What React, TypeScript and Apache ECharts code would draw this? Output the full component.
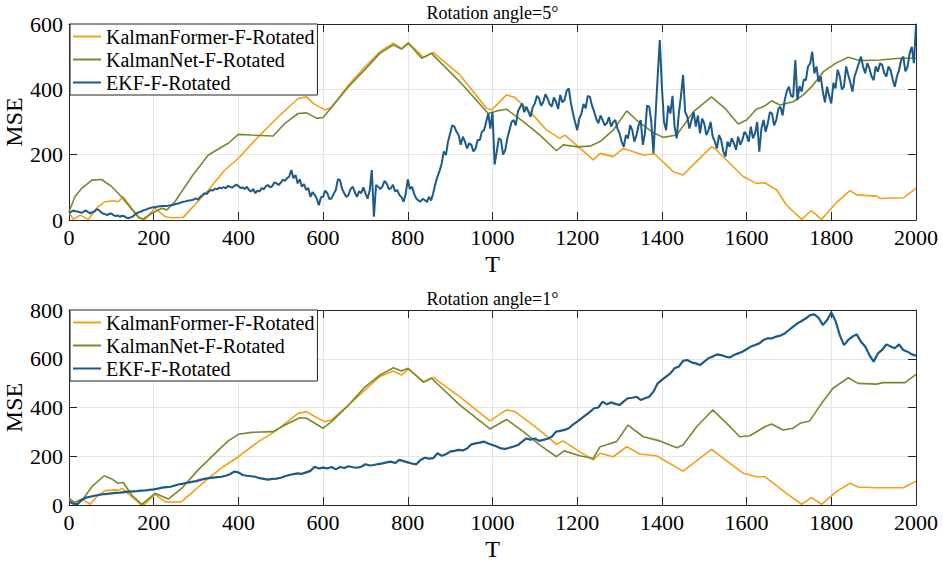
import React, { useEffect, useRef } from "react";
import * as echarts from "echarts";

const FONT = "Liberation Serif";
const FRAME = "#262626";
const GRIDLINE = "#e4e4e4";
const C_KF = "#F59E17";
const C_KN = "#768A2D";
const C_EKF = "#1B5A89";

const seriesNames = ["KalmanFormer-F-Rotated", "KalmanNet-F-Rotated", "EKF-F-Rotated"];
const titles = ["Rotation angle=5°", "Rotation angle=1°"];
const yAxisTitle = "MSE";
const xAxisTitle = "T";
const xTickMax = 2000;
const xTickStep = 200;
const yMaxTop = 600;
const yMaxBottom = 800;
const yTickStep = 200;

// ---------- Rotation angle = 5° ----------
const kfTop: number[][] = [
  [0, 25], [10, 2], [26, 15], [46, 2], [69, 41], [85, 56], [105, 59], [116, 56], [128, 71], [148, 36],
  [168, 5], [179, 2], [203, 36], [227, 10], [242, 7], [270, 8], [329, 92], [368, 153], [400, 189],
  [447, 255], [494, 316], [541, 372], [561, 377], [577, 357], [604, 337], [620, 345], [660, 413],
  [699, 469], [734, 515], [766, 541], [785, 525], [801, 543], [837, 498], [860, 513], [923, 444],
  [986, 342], [998, 337], [1033, 383], [1053, 375], [1096, 321], [1128, 275], [1159, 250], [1171, 260],
  [1238, 184], [1254, 204], [1285, 194], [1309, 219], [1356, 199], [1383, 202], [1427, 148], [1450, 138],
  [1517, 224], [1525, 219], [1592, 133], [1623, 112], [1643, 114], [1671, 92], [1694, 46], [1730, 2],
  [1753, 29], [1777, 2], [1812, 53], [1844, 90], [1860, 77], [1907, 73], [1915, 66], [1970, 68], [2000, 97],
];

const knTop: number[][] = [
  [0, 25], [14, 71], [30, 97], [54, 122], [77, 124], [101, 102], [124, 71], [148, 33], [164, 8], [175, 3],
  [195, 20], [219, 36], [231, 31], [250, 56], [290, 133], [329, 199], [376, 235], [400, 262], [431, 260],
  [482, 257], [510, 296], [541, 326], [561, 328], [585, 311], [600, 314], [620, 345], [660, 408],
  [699, 461], [734, 510], [766, 536], [785, 523], [801, 541], [833, 495], [856, 510], [923, 423],
  [990, 326], [1010, 334], [1033, 339], [1073, 301], [1112, 260], [1151, 212], [1167, 230], [1199, 224],
  [1230, 226], [1254, 240], [1285, 275], [1317, 334], [1340, 306], [1380, 267], [1403, 253], [1435, 260],
  [1474, 331], [1517, 377], [1549, 342], [1580, 294], [1600, 306], [1623, 339], [1643, 349], [1659, 365],
  [1679, 352], [1710, 362], [1734, 383], [1757, 413], [1781, 454], [1812, 481], [1840, 498], [1867, 488],
  [1915, 490], [1962, 495], [2000, 495],
];

// EKF values every 5 steps (one row = 100 steps)
const ekfTopStep = 5;
const ekfTop: number[] = [
  22, 25, 29, 27, 26, 24, 22, 26, 29, 24, 20, 24, 26, 33, 31, 24, 20, 18, 15, 19,
  20, 15, 12, 14, 10, 13, 12, 8, 5, 8, 10, 16, 20, 24, 26, 29, 31, 34, 36, 38,
  39, 40, 41, 42, 43, 43, 43, 44, 45, 46, 48, 50, 51, 54, 56, 57, 59, 60, 61, 63,
  66, 62, 71, 76, 82, 79, 87, 92, 90, 96, 94, 99, 97, 101, 97, 104, 102, 99, 104, 108,
  104, 98, 100, 95, 102, 92, 87, 95, 82, 90, 87, 98, 94, 104, 107, 100, 104, 115, 112, 107,
  114, 124, 120, 128, 133, 153, 128, 138, 112, 125, 102, 110, 92, 98, 71, 85, 77, 66, 45, 70,
  71, 90, 82, 64, 66, 80, 92, 125, 122, 95, 82, 70, 77, 95, 102, 85, 71, 88, 82, 100,
  82, 65, 90, 153, 10, 107, 102, 95, 102, 120, 112, 95, 97, 108, 87, 92, 77, 70, 56, 80,
  124, 95, 102, 80, 66, 60, 56, 65, 61, 55, 71, 60, 82, 110, 133, 150, 173, 210, 199, 240,
  265, 290, 286, 270, 260, 230, 255, 240, 219, 235, 230, 210, 219, 245, 245, 270, 275, 300, 326, 280,
  330, 170, 209, 250, 245, 200, 214, 250, 275, 300, 306, 290, 332, 345, 357, 330, 347, 330, 316, 345,
  357, 380, 372, 350, 362, 385, 372, 355, 347, 375, 362, 340, 383, 360, 367, 395, 403, 360, 326, 300,
  275, 310, 326, 355, 342, 380, 377, 350, 332, 310, 296, 320, 306, 290, 296, 315, 286, 300, 306, 280,
  265, 240, 224, 260, 250, 290, 275, 240, 260, 290, 306, 230, 265, 350, 347, 300, 204, 320, 439, 551,
  408, 300, 275, 350, 326, 380, 286, 250, 326, 380, 444, 330, 316, 280, 306, 330, 286, 320, 265, 310,
  296, 260, 275, 300, 255, 240, 219, 260, 245, 210, 194, 240, 224, 250, 235, 215, 255, 230, 245, 270,
  260, 240, 286, 250, 265, 300, 209, 280, 306, 270, 296, 330, 326, 290, 306, 340, 347, 320, 367, 395,
  408, 380, 377, 490, 367, 410, 393, 430, 428, 470, 479, 515, 449, 470, 423, 440, 393, 360, 408, 380,
  357, 420, 403, 460, 439, 400, 408, 470, 444, 420, 393, 440, 459, 480, 500, 470, 449, 480, 464, 440,
  428, 470, 454, 480, 475, 450, 439, 470, 459, 430, 408, 440, 459, 490, 500, 455, 469, 510, 530, 480,
  597,
];

// ---------- Rotation angle = 1° ----------
const kfBottom: number[][] = [
  [0, 27], [14, 3], [34, 21], [50, 3], [65, 34], [85, 59], [109, 62], [116, 60], [126, 68], [148, 34],
  [168, 3], [179, 3], [203, 44], [227, 14], [242, 11], [266, 14], [329, 109], [364, 157], [400, 198],
  [447, 260], [486, 301], [541, 376], [561, 383], [581, 362], [604, 342], [620, 349], [660, 410],
  [699, 472], [734, 527], [766, 550], [785, 533], [801, 557], [837, 506], [860, 524], [923, 444],
  [994, 345], [1033, 390], [1053, 383], [1096, 328], [1128, 283], [1151, 249], [1167, 263], [1199, 226],
  [1238, 185], [1254, 212], [1285, 198], [1317, 239], [1348, 209], [1387, 202], [1450, 139], [1517, 228],
  [1592, 130], [1623, 116], [1643, 116], [1694, 48], [1730, 3], [1753, 30], [1777, 3], [1812, 55],
  [1844, 89], [1863, 74], [1907, 71], [1970, 71], [2000, 98],
];

const knBottom: number[][] = [
  [0, 27], [14, 11], [34, 27], [54, 75], [83, 120], [101, 107], [116, 89], [128, 92], [148, 41], [172, 3],
  [203, 48], [235, 25], [266, 68], [305, 144], [345, 212], [376, 263], [400, 290], [431, 298], [482, 301],
  [510, 328], [545, 358], [561, 356], [600, 315], [620, 342], [660, 410], [699, 485], [734, 533],
  [766, 563], [785, 550], [801, 561], [837, 503], [856, 520], [923, 410], [994, 312], [1033, 351],
  [1073, 301], [1112, 246], [1151, 198], [1169, 222], [1206, 202], [1238, 191], [1254, 239], [1273, 249],
  [1293, 260], [1320, 328], [1356, 280], [1395, 263], [1435, 235], [1450, 246], [1482, 321], [1520, 390],
  [1553, 335], [1584, 280], [1608, 284], [1643, 321], [1659, 332], [1686, 308], [1710, 315], [1726, 335],
  [1749, 345], [1777, 417], [1804, 479], [1840, 522], [1863, 499], [1907, 496], [1922, 502], [1974, 502],
  [2000, 536],
];

// EKF values every 10 steps (one row = 100 steps)
const ekfBottomStep = 10;
const ekfBottom: number[] = [
  15, 5, 3, 21, 30, 34, 38, 41, 44, 46,
  48, 50, 51, 53, 55, 56, 57, 59, 60, 62,
  64, 67, 71, 73, 75, 80, 85, 88, 92, 95,
  98, 103, 107, 110, 112, 114, 116, 120, 126, 137,
  134, 123, 120, 118, 116, 110, 107, 104, 107, 108,
  112, 118, 123, 127, 130, 128, 134, 140, 157, 150,
  153, 150, 156, 146, 156, 152, 159, 155, 153, 157,
  167, 162, 164, 168, 171, 175, 178, 172, 185, 180,
  175, 170, 167, 185, 194, 190, 192, 212, 202, 208,
  219, 222, 226, 224, 232, 249, 253, 256, 260, 252,
  246, 240, 232, 230, 235, 240, 246, 260, 273, 268,
  273, 263, 267, 272, 280, 301, 304, 308, 315, 330,
  342, 355, 369, 382, 397, 400, 424, 413, 421, 415,
  410, 425, 438, 440, 444, 431, 438, 444, 465, 499,
  513, 527, 540, 561, 568, 591, 595, 585, 581, 574,
  588, 602, 609, 618, 615, 609, 605, 615, 622, 629,
  639, 650, 656, 663, 677, 684, 684, 691, 695, 704,
  718, 732, 745, 755, 766, 779, 782, 768, 738, 759,
  790, 755, 697, 656, 677, 691, 700, 670, 650, 615,
  588, 622, 636, 659, 650, 643, 659, 636, 629, 618,
  613,
];

const W = 943;
const H = 565;
const grids = [
  { left: 69, top: 24, width: 847, height: 196 },
  { left: 69, top: 310, width: 847, height: 195 },
];

const plainNumber = (v: number) => String(v);

function xAxesFor(gi: number) {
  const line = { show: true, onZero: false, lineStyle: { color: FRAME, width: 1 } };
  const tick = { show: true, inside: true, length: 8, lineStyle: { color: FRAME, width: 1 } };
  return [
    {
      type: "value", gridIndex: gi, min: 0, max: xTickMax, interval: xTickStep, position: "bottom",
      name: xAxisTitle, nameLocation: "middle", nameGap: 32,
      nameTextStyle: { fontFamily: FONT, fontSize: 24, color: "#000" },
      axisLine: line, axisTick: tick,
      axisLabel: { fontFamily: FONT, fontSize: 22, color: "#000", margin: 6, formatter: plainNumber },
      splitLine: { show: true, lineStyle: { color: GRIDLINE, width: 1 } },
    },
    {
      type: "value", gridIndex: gi, min: 0, max: xTickMax, interval: xTickStep, position: "top",
      axisLine: line, axisTick: tick, axisLabel: { show: false }, splitLine: { show: false },
    },
  ];
}

function yAxesFor(gi: number, max: number) {
  const line = { show: true, onZero: false, lineStyle: { color: FRAME, width: 1 } };
  const tick = { show: true, inside: true, length: 8, lineStyle: { color: FRAME, width: 1 } };
  return [
    {
      type: "value", gridIndex: gi, min: 0, max, interval: yTickStep, position: "left",
      axisLine: line, axisTick: tick,
      axisLabel: { fontFamily: FONT, fontSize: 22, color: "#000", margin: 6, formatter: plainNumber },
      splitLine: { show: true, lineStyle: { color: GRIDLINE, width: 1 } },
    },
    {
      type: "value", gridIndex: gi, min: 0, max, interval: yTickStep, position: "right",
      axisLine: line, axisTick: tick, axisLabel: { show: false }, splitLine: { show: false },
    },
  ];
}

function lineSeries(name: string, data: number[][], color: string, axisIdx: number, width: number) {
  return {
    type: "line", name, data, xAxisIndex: axisIdx, yAxisIndex: axisIdx,
    showSymbol: false, symbol: "none", silent: true,
    lineStyle: { color, width }, itemStyle: { color },
  };
}

export default function App() {
  const ref = useRef<HTMLDivElement>(null);
  useEffect(() => {
    if (!ref.current) return;
    const chart = echarts.init(ref.current, undefined, { renderer: "svg", width: W, height: H });
    const ekfTopData = ekfTop.map((v, i) => [i * ekfTopStep, v]);
    const ekfBottomData = ekfBottom.map((v, i) => [i * ekfBottomStep, v]);
    const titleTexts = titles.map((t, i) => ({
      type: "text", x: grids[i].left + grids[i].width / 2, y: grids[i].top - 2,
      style: { text: t, fontFamily: FONT, fontSize: 18, fill: "#000", align: "center", verticalAlign: "bottom" },
    }));
    const yNames = grids.map((g) => ({
      type: "text", x: 14, y: g.top + g.height / 2, rotation: Math.PI / 2,
      style: { text: yAxisTitle, fontFamily: FONT, fontSize: 24, fill: "#000", align: "center", verticalAlign: "middle" },
    }));
    const option: any = {
      animation: false,
      backgroundColor: "#ffffff",
      textStyle: { fontFamily: FONT },
      grid: grids.map((g) => ({ ...g, containLabel: false, outerBoundsMode: "none" })),
      xAxis: [...xAxesFor(0), ...xAxesFor(1)],
      yAxis: [...yAxesFor(0, yMaxTop), ...yAxesFor(1, yMaxBottom)],
      legend: grids.map((g) => ({
        orient: "vertical", left: 70, top: g.top, data: seriesNames, icon: "rect",
        itemWidth: 28, itemHeight: 2, itemGap: 0, selectedMode: false,
        backgroundColor: "#ffffff", borderColor: FRAME, borderWidth: 1, borderRadius: 0,
        padding: [1, 3, 1, 3],
        textStyle: { fontFamily: FONT, fontSize: 20, color: "#000", lineHeight: 23 },
      })),
      graphic: [...titleTexts, ...yNames],
      series: [
        lineSeries(seriesNames[0], kfTop, C_KF, 0, 1.6),
        lineSeries(seriesNames[1], knTop, C_KN, 0, 1.6),
        lineSeries(seriesNames[2], ekfTopData, C_EKF, 0, 2),
        lineSeries(seriesNames[0], kfBottom, C_KF, 2, 1.6),
        lineSeries(seriesNames[1], knBottom, C_KN, 2, 1.6),
        lineSeries(seriesNames[2], ekfBottomData, C_EKF, 2, 2.2),
      ],
    };
    chart.setOption(option);
    return () => chart.dispose();
  }, []);
  return (
    <div
      ref={ref}
      style={{ position: "absolute", left: 0, top: 0, width: W, height: H, background: "#fff" }}
    />
  );
}
